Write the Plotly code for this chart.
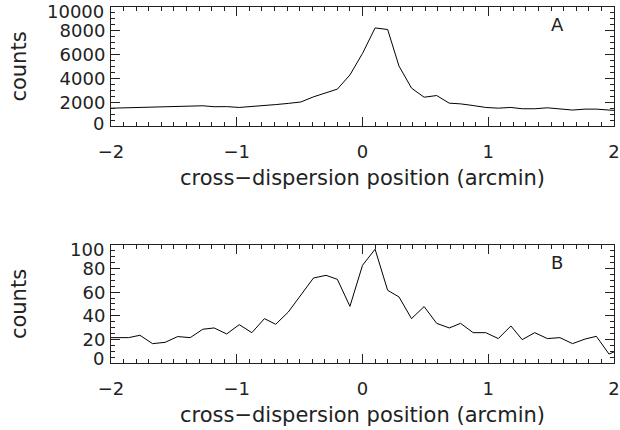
import plotly.graph_objects as go

# cross-dispersion positions (arcmin), one per detector bin
x_pos = [-2.06, -1.96, -1.86, -1.77, -1.67, -1.57, -1.47, -1.37, -1.27, -1.18,
         -1.08, -0.98, -0.88, -0.78, -0.69, -0.59, -0.49, -0.39, -0.29, -0.20,
         -0.10, 0.00, 0.10, 0.20, 0.29, 0.39, 0.49, 0.59, 0.69, 0.78,
         0.88, 0.98, 1.08, 1.18, 1.27, 1.37, 1.47, 1.57, 1.67, 1.77,
         1.86, 1.96, 2.06]

# panel A counts
counts_a = [1480, 1500, 1560, 1600, 1580, 1600, 1620, 1680, 1700, 1620,
            1630, 1560, 1630, 1730, 1800, 1900, 2020, 2450, 2800, 3100,
            4290, 6100, 8240, 8110, 5040, 3180, 2420, 2560, 1920, 1860,
            1720, 1560, 1500, 1560, 1450, 1450, 1530, 1450, 1340, 1420,
            1420, 1340, 1280]

# panel B counts
counts_b = [21.5, 21.5, 21.5, 23.5, 16.4, 17.5, 22.4, 21.5, 28.6, 29.7,
            24.6, 32.5, 25.7, 37.6, 32.8, 43.2, 57.4, 72.0, 74.3, 70.9,
            48.0, 82.8, 96.4, 61.6, 56.0, 37.6, 47.8, 33.6, 29.7, 33.6,
            25.7, 25.7, 20.7, 31.4, 19.8, 25.7, 20.7, 21.5, 16.4, 20.3,
            22.6, 7.6, 12.0]

x_ticks = [-2, -1, 0, 1, 2]
a_ticks = [0, 2000, 4000, 6000, 8000, 10000]
b_ticks = [0, 20, 40, 60, 80, 100]
x_title = "cross\u2212dispersion position (arcmin)"
y_title = "counts"
panel_labels = ["A", "B"]

INK = "#222222"
TICKFONT = dict(family="DejaVu Sans", size=18, color=INK)
TITLEFONT = dict(family="DejaVu Sans", size=21, color=INK)

fig = go.Figure()
fig.add_trace(go.Scatter(x=x_pos, y=counts_a, mode="lines",
                         line=dict(color="black", width=1),
                         xaxis="x", yaxis="y", showlegend=False))
fig.add_trace(go.Scatter(x=x_pos, y=counts_b, mode="lines",
                         line=dict(color="black", width=1),
                         xaxis="x2", yaxis="y2", showlegend=False))

common = dict(showline=True, linecolor=INK, linewidth=1, mirror="ticks",
              ticks="inside", ticklen=9, tickwidth=1, tickcolor=INK,
              showgrid=False, zeroline=False, tickfont=TICKFONT,
              automargin=False, ticklabeloverflow="allow")


def xax(anchor):
    return dict(common, domain=[0, 1], anchor=anchor, range=[-2, 2],
                tickvals=x_ticks, ticklabelstandoff=9,
                minor=dict(ticks="inside", ticklen=4, dtick=0.1,
                           tickcolor=INK, showgrid=False),
                title=dict(text=x_title, font=TITLEFONT, standoff=9))


def yax(anchor, dom, tv, mdt, standoff):
    # end labels are drawn as annotations nudged inside the frame (as in the
    # original), the inner ones by the axis itself
    tt = [""] + [str(v) for v in tv[1:-1]] + [""]
    return dict(common, domain=dom, anchor=anchor, range=[tv[0], tv[-1]],
                tickvals=tv, ticktext=tt, ticklabelstandoff=1,
                minor=dict(ticks="inside", ticklen=4, dtick=mdt,
                           tickcolor=INK, showgrid=False),
                title=dict(text=y_title, font=TITLEFONT, standoff=standoff))


def end_label(v, xref, yref, shift):
    return dict(text=str(v), xref=xref, yref=yref, x=0, y=v,
                xanchor="right", yanchor="middle", xshift=-6, yshift=shift,
                showarrow=False, font=TICKFONT, borderpad=0)


annotations = [
    dict(text=panel_labels[0], xref="x domain", yref="y domain",
         x=0.887, y=0.853, xanchor="center", yanchor="middle",
         showarrow=False, font=TICKFONT),
    dict(text=panel_labels[1], xref="x2 domain", yref="y2 domain",
         x=0.887, y=0.852, xanchor="center", yanchor="middle",
         showarrow=False, font=TICKFONT),
    end_label(a_ticks[-1], "x domain", "y", -4),
    end_label(a_ticks[0], "x domain", "y", 3),
    end_label(b_ticks[-1], "x2 domain", "y2", -5),
    end_label(b_ticks[0], "x2 domain", "y2", 4),
]

fig.update_layout(
    width=620, height=430,
    margin=dict(l=111, r=6, t=7, b=67),
    paper_bgcolor="white", plot_bgcolor="white",
    font=TICKFONT,
    xaxis=xax("y"),
    yaxis=yax("x", [0.6657, 1.0], a_ticks, 500, 27),
    xaxis2=xax("y2"),
    yaxis2=yax("x2", [0.0, 0.3315], b_ticks, 5, 50),
    annotations=annotations,
)

fig.write_html("out.html",
               config={"displayModeBar": False},
               post_script="document.documentElement.style.margin='0';"
                           "document.body.style.margin='0';"
                           "document.body.style.overflow='hidden';")
